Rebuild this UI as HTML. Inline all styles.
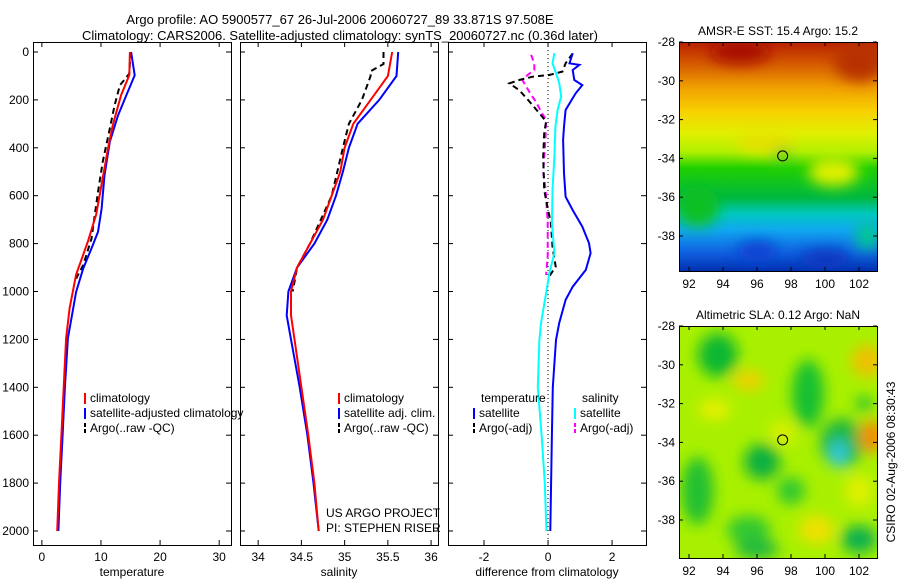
<!DOCTYPE html>
<html><head><meta charset="utf-8"><style>
body{margin:0;background:#fff;}
svg{display:block;font-family:"Liberation Sans",sans-serif;}
</style></head><body>
<svg id="c" width="900" height="580" viewBox="0 0 900 580">
<defs>
<filter id="bl" x="-50%" y="-50%" width="200%" height="200%"><feGaussianBlur stdDeviation="7"/></filter>
<clipPath id="m1"><rect x="679" y="42" width="198" height="229"/></clipPath>
<clipPath id="m2"><rect x="679" y="326" width="198" height="232"/></clipPath>
<linearGradient id="sst" x1="0" y1="0" x2="0" y2="1">
<stop offset="0" stop-color="#b82000"/><stop offset="0.08" stop-color="#d05000"/><stop offset="0.2" stop-color="#f0a000"/>
<stop offset="0.3" stop-color="#f8d000"/><stop offset="0.4" stop-color="#e0f000"/><stop offset="0.48" stop-color="#b0f000"/>
<stop offset="0.55" stop-color="#20d000"/><stop offset="0.68" stop-color="#00b840"/><stop offset="0.75" stop-color="#00c8c0"/>
<stop offset="0.82" stop-color="#10a8f0"/><stop offset="0.92" stop-color="#1060e0"/><stop offset="1" stop-color="#0030b0"/>
</linearGradient>
</defs>
<g id="plots"></g>
<g font-size="13" text-anchor="middle" fill="#000">
<text x="340" y="24">Argo profile: AO 5900577_67 26-Jul-2006 20060727_89 33.871S 97.508E</text>
<text x="340" y="40">Climatology: CARS2006. Satellite-adjusted climatology: synTS_20060727.nc (0.36d later)</text>
</g>
</svg>
<script>
// ---- data ----
const depthTicks=[0,200,400,600,800,1000,1200,1400,1600,1800,2000];
const tempTicks=[0,10,20,30];
const salTicks=[34,34.5,35,35.5,36];
const diffTicks=[-2,0,2];
const tempClimDepth=[0,97,180,305,400,553,678,790,930,1070,1195,1400,1600,1800,2000];
const tempClim=[14.9,14.8,13.4,12.0,11.2,10.1,9.2,7.8,5.8,4.7,4.1,3.7,3.3,2.9,2.6];
const tempSatDepth=[0,97,180,264,375,515,654,751,820,904,1002,1113,1195,1400,1600,1800,2000];
const tempSat=[15.1,15.7,14.3,12.9,11.5,10.6,10.1,9.5,8.4,7.0,5.8,5.0,4.4,3.9,3.5,3.1,2.8];
const tempArgoDepth=[0,90,139,222,320,459,584,779,890,946];
const tempArgo=[15,14.8,13.2,12.3,11.5,10.3,9.5,8.4,7.0,5.8];
const salDepth=[0,100,200,300,400,500,600,700,800,900,1000,1100,1200,1400,1600,1800,2000];
const salClim=[35.55,35.5,35.3,35.1,35,34.95,34.85,34.75,34.6,34.45,34.38,34.38,34.42,34.5,34.58,34.65,34.7];
const salSat=[35.62,35.6,35.4,35.15,35.05,34.98,34.9,34.8,34.65,34.45,34.35,34.33,34.38,34.48,34.57,34.64,34.7];
const salArgoDepth=[0,50,80,100,200,300,400,600,800,900,1000];
const salArgo=[35.45,35.45,35.3,35.3,35.2,35.05,34.98,34.85,34.6,34.45,34.4];
const dTempSatDepth=[5,47,54,75,117,138,173,242,312,367,506,604,660,729,798,840,910,980,1035,1132,1202,1400,1600,2000];
const dTempSat=[0.77,0.67,0.98,0.77,0.82,1.07,0.86,0.55,0.5,0.47,0.5,0.55,0.77,1.07,1.28,1.33,1.18,0.77,0.55,0.35,0.25,0.15,0.12,0.07];
const dSalSatDepth=[5,47,88,130,186,242,312,437,576,715,840,924,1007,1132,1202,1400,1600,1800,2000];
const dSalSat=[0.2,0.14,0.25,0.35,0.41,0.3,0.23,0.2,0.14,0.12,0.2,0.04,-0.06,-0.22,-0.27,-0.32,-0.2,-0.1,-0.05];
const dTempArgoDepth=[6,47,82,96,103,117,131,159,207,256,290,339,437,576,646,715,813,896,938];
const dTempArgo=[0.77,0.55,0.45,0.04,-0.48,-0.9,-1.21,-0.9,-0.58,-0.27,-0.06,-0.12,-0.15,-0.12,-0.02,0.09,0.14,0.24,0.03];
const dSalArgoDepth=[12,47,75,96,117,179,207,249,284,360,500,570,710,848,931];
const dSalArgo=[-0.53,-0.43,-0.43,-0.64,-0.8,-0.53,-0.38,-0.22,-0.06,-0.08,-0.15,-0.08,-0.01,-0.01,-0.06];
const lonTicks=[92,94,96,98,100,102];
const latTicks=[-28,-30,-32,-34,-36,-38];
const argoLon=97.508, argoLat=-33.871;
// ---- helpers ----
const NS='http://www.w3.org/2000/svg';
const G=document.getElementById('plots');
function mk(t,a,p){const e=document.createElementNS(NS,t);for(const k in a)e.setAttribute(k,a[k]);(p||G).appendChild(e);return e;}
const Y=d=>52+d*0.2395;
const panels=[
 {x0:33,w:198,lo:-1.5,hi:32,ticks:tempTicks,label:'temperature',name:'temperature-panel'},
 {x0:240,w:198,lo:33.79,hi:36.08,ticks:salTicks,label:'salinity',name:'salinity-panel'},
 {x0:448,w:198,lo:-3.125,hi:3.06,ticks:diffTicks,label:'difference from climatology',name:'difference-panel'}];
panels.forEach(p=>{p.X=v=>p.x0+(v-p.lo)/(p.hi-p.lo)*p.w;});
function line(p,vals,deps,col,name,dash){
 const d=vals.map((v,i)=>(i?'L':'M')+p.X(v).toFixed(1)+' '+Y(deps[i]).toFixed(1)).join('');
 const e=mk('path',{d:d,fill:'none',stroke:col,'stroke-width':2});
 if(dash)e.setAttribute('stroke-dasharray',dash);
 
 
}
panels.forEach((p,i)=>{
 const g=mk('g',{});
 
 
 const r=mk('rect',{x:p.x0+.5,y:42.5,width:p.w,height:503,fill:'none',stroke:'#000'},g);
 
 
 p.ticks.forEach(t=>{const x=p.X(t);
  mk('line',{x1:x,x2:x,y1:42,y2:47,stroke:'#000'},g);mk('line',{x1:x,x2:x,y1:545,y2:540,stroke:'#000'},g);
  const tx=mk('text',{x:x,y:561,'font-size':12,'text-anchor':'middle'},g);tx.textContent=t;
  
  });
 depthTicks.forEach(d=>{const y=Y(d);
  mk('line',{x1:p.x0,x2:p.x0+5,y1:y,y2:y,stroke:'#000'},g);mk('line',{x1:p.x0+p.w,x2:p.x0+p.w-5,y1:y,y2:y,stroke:'#000'},g);
  if(i==0){const tx=mk('text',{x:29,y:y+4,'font-size':12,'text-anchor':'end'},g);tx.textContent=d;
   
   }});
 const xl=mk('text',{x:p.x0+p.w/2,y:576,'font-size':12,'text-anchor':'middle'},g);xl.textContent=p.label;
 
 
});
const [P1,P2,P3]=panels;
line(P1,tempArgo,tempArgoDepth,'#000','temp-argo-line','6,4');
line(P1,tempSat,tempSatDepth,'#0000ff','temp-satellite-line');
line(P1,tempClim,tempClimDepth,'#ff0000','temp-climatology-line');
line(P2,salArgo,salArgoDepth,'#000','sal-argo-line','6,4');
line(P2,salSat,salDepth,'#0000ff','sal-satellite-line');
line(P2,salClim,salDepth,'#ff0000','sal-climatology-line');
const z=mk('line',{x1:P3.X(0),x2:P3.X(0),y1:42,y2:545,stroke:'#000','stroke-dasharray':'1,3'});


line(P3,dSalArgo,dSalArgoDepth,'#ff00ff','diff-sal-argo-line','6,4');
line(P3,dTempArgo,dTempArgoDepth,'#000','diff-temp-argo-line','6,4');
line(P3,dSalSat,dSalSatDepth,'#00ffff','diff-sal-satellite-line');
line(P3,dTempSat,dTempSatDepth,'#0000ff','diff-temp-satellite-line');
function legend(x,y,items){items.forEach((it,k)=>{const yy=y+k*15;
 const l=mk('line',{x1:x,x2:x,y1:yy-9,y2:yy+2,stroke:it[1],'stroke-width':2});if(it[2])l.setAttribute('stroke-dasharray','4,2');
 const t=mk('text',{x:x+5,y:yy,'font-size':12});t.textContent=it[0];
 
 });}
legend(85,402,[['climatology','#ff0000'],['satellite-adjusted climatology','#0000ff'],['Argo(..raw -QC)','#000',1]]);
legend(339,402,[['climatology','#ff0000'],['satellite adj. clim.','#0000ff'],['Argo(..raw -QC)','#000',1]]);
let t=mk('text',{x:481,y:402,'font-size':12});t.textContent='temperature';
t=mk('text',{x:582,y:402,'font-size':12});t.textContent='salinity';
legend(474,417,[['satellite','#0000ff'],['Argo(-adj)','#000',1]]);
legend(575,417,[['satellite','#00ffff'],['Argo(-adj)','#ff00ff',1]]);
t=mk('text',{x:326,y:517,'font-size':12});t.textContent='US ARGO PROJECT';


t=mk('text',{x:326,y:532,'font-size':12});t.textContent='PI: STEPHEN RISER';


// ---- maps ----
function map(top,h,title,name,clip,drawFn){
 const g=mk('g',{});
 
 
 const LX=v=>689+(v-92)*17, LY=v=>top+(-28-v)*19.4;
 const inner=mk('g',{'clip-path':'url(#'+clip+')'},g);
 drawFn(inner,LX,LY);
 mk('rect',{x:679.5,y:top+.5,width:198,height:h,fill:'none',stroke:'#000'},g);
 lonTicks.forEach(v=>{const x=LX(v);mk('line',{x1:x,x2:x,y1:top+h,y2:top+h-4,stroke:'#000'},g);mk('line',{x1:x,x2:x,y1:top,y2:top+4,stroke:'#000'},g);
  const tx=mk('text',{x:x,y:top+h+17,'font-size':12,'text-anchor':'middle'},g);tx.textContent=v;});
 latTicks.forEach(v=>{const y=LY(v);mk('line',{x1:679,x2:683,y1:y,y2:y,stroke:'#000'},g);mk('line',{x1:877,x2:873,y1:y,y2:y,stroke:'#000'},g);
  const tx=mk('text',{x:675,y:y+4,'font-size':12,'text-anchor':'end'},g);tx.textContent=v;});
 const c=mk('circle',{cx:LX(argoLon),cy:LY(argoLat),r:5,fill:'none',stroke:'#000'},g);
 
 
 const tt=mk('text',{x:778,y:top-7,'font-size':12,'text-anchor':'middle'},g);tt.textContent=title;
 
 
}
map(42,229,'AMSR-E SST: 15.4 Argo: 15.2','sst-map','m1',(g,LX,LY)=>{
 mk('rect',{x:679,y:42,width:198,height:229,fill:'url(#sst)'},g);
 const f=mk('g',{filter:'url(#bl)'},g);
 [[95,-28.5,30,12,'#a81000'],[102,-29,25,20,'#b83000'],[96.5,-33.2,30,10,'#e8e000'],[100.5,-34.7,25,14,'#e0f000'],
  [92.5,-36.5,22,20,'#10c020'],[96,-38.8,20,10,'#1040d0'],[100,-39.2,25,10,'#0838c0'],[102.5,-38,12,14,'#00c890'],[97.5,-33.9,10,8,'#40d020']]
 .forEach(b=>mk('ellipse',{cx:LX(b[0]),cy:LY(b[1]),rx:b[2],ry:b[3],fill:b[4]},f));
});
map(326,232,'Altimetric SLA: 0.12 Argo: NaN','sla-map','m2',(g,LX,LY)=>{
 mk('rect',{x:679,y:326,width:198,height:232,fill:'#a8f000'},g);
 const f=mk('g',{filter:'url(#bl)'},g);
 [[93.7,-29.5,20,22,'#10b830'],[99,-31.5,16,34,'#18c030'],[92.5,-36.5,16,34,'#20c030'],[96.3,-35,18,18,'#10b040'],
  [98,-36.5,14,14,'#30c830'],[95.5,-38.5,22,14,'#30c830'],
  [101,-34,22,24,'#20b840'],[100.8,-34.6,9,14,'#30c8e0'],[95.5,-30.8,16,10,'#f0d000'],[102.8,-33.7,14,16,'#f09000'],
  [102.5,-29.8,16,16,'#f0c000'],[99.5,-38.5,18,14,'#f0e000'],[96,-39.5,22,10,'#20b840'],[102,-39,18,14,'#10b050'],
  [93.5,-32.3,16,10,'#e8f000'],[97.5,-33.5,14,12,'#d8f000'],[102,-36.5,14,16,'#e0f000'],[102.3,-32,8,8,'#20c030']]
 .forEach(b=>mk('ellipse',{cx:LX(b[0]),cy:LY(b[1]),rx:b[2],ry:b[3],fill:b[4]},f));
});
t=mk('text',{x:0,y:0,'font-size':12,transform:'translate(895,462) rotate(-90)','text-anchor':'middle'});
t.textContent='CSIRO 02-Aug-2006 08:30:43';


</script>
</body></html>
